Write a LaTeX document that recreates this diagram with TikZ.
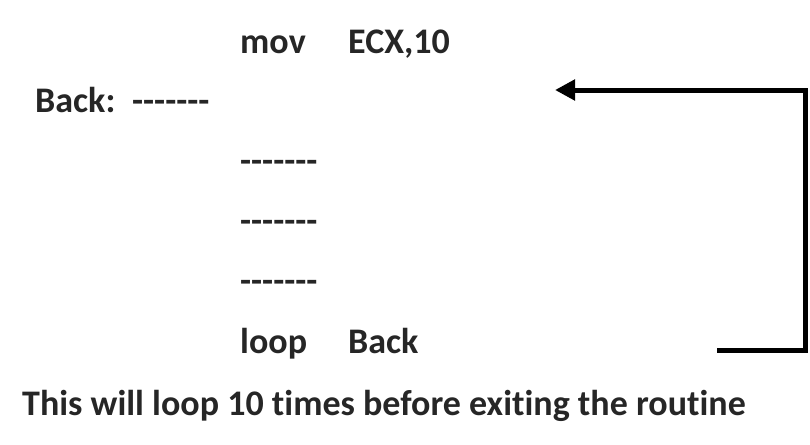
\documentclass[tikz,border=0pt]{standalone}
\usepackage{fontspec}
\setmainfont{Carlito}[Ligatures={TeXOff,CommonOff}]
\usetikzlibrary{arrows.meta}
\definecolor{codegray}{HTML}{262626}
\begin{document}
\begin{tikzpicture}[x=1pt, y=-1pt,
	code/.style={anchor=base west, inner sep=0, text=codegray, font=\bfseries\fontsize{36}{42}\selectfont},
	jump/.style={line width=5pt, -{Triangle[length=20pt, width=20pt]}}]
	\useasboundingbox (0,0) rectangle (810,444); % Rand wie im Original

	\node[code] (mov) at (240,53) {mov};
	\node[code] (ecx) at (348,53) {ECX,10};
	\node[code] (back) at (35,112) {Back:};
	\node[code] (d0) at (132,112) {-------};
	\node[code] (d1) at (240,172) {-------};
	\node[code] (d2) at (240,232) {-------};
	\node[code] (d3) at (240,292) {-------};
	\node[code] (loop) at (240,353) {loop};
	\node[code] (target) at (348,353) {Back};
	\node[code] (note) at (22,415) {This will loop 10 times before exiting the routine};

	\coordinate (from) at (717,350);
	\coordinate (to) at (555,90);
	\draw[jump] (from) -| (805,90) -- (to);

	%\draw[help lines, step=50] (0,0) grid (810,444);
\end{tikzpicture}
\end{document}
